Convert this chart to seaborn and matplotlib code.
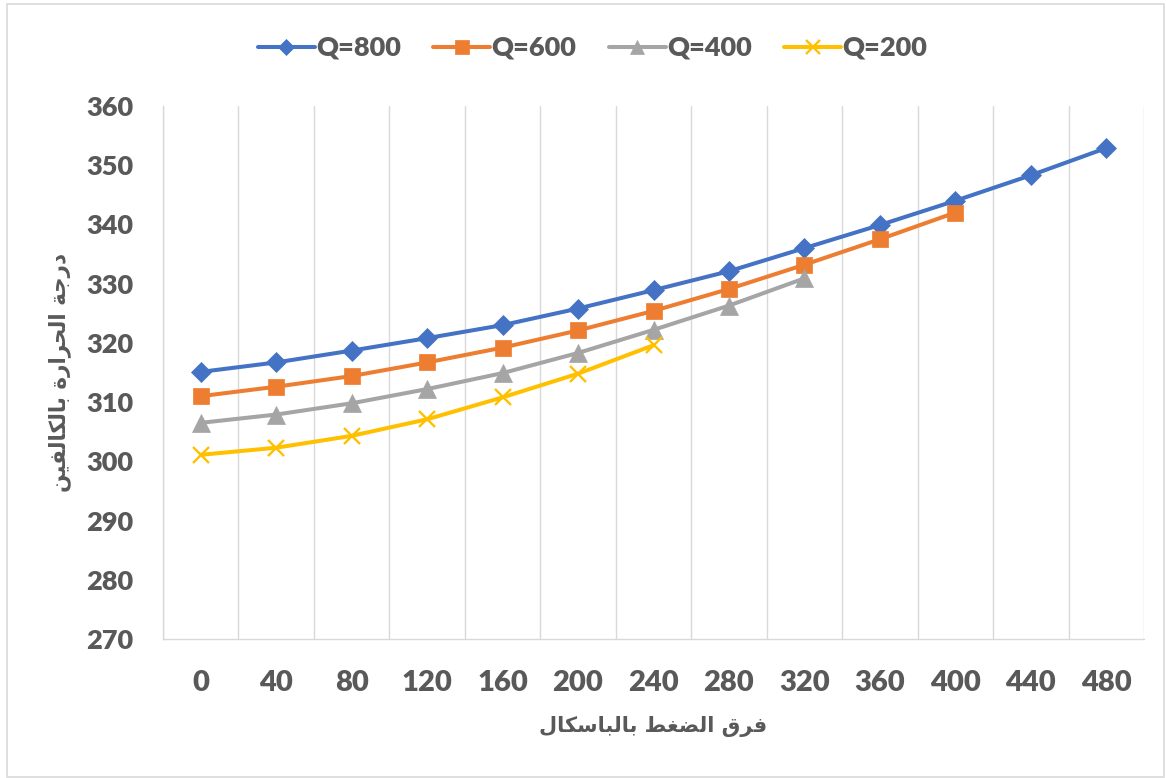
import numpy as np
import pandas as pd
import matplotlib
matplotlib.use("Agg")
import matplotlib.pyplot as plt
import seaborn as sns
from matplotlib.patches import Rectangle

# ---------------- data ----------------
pressure = [0, 40, 80, 120, 160, 200, 240, 280, 320, 360, 400, 440, 480]
q800 = [315.1, 316.7, 318.7, 320.8, 323.0, 325.8, 328.9, 332.1, 336.0, 339.9, 344.0, 348.3, 352.9]
q600 = [311.0, 312.6, 314.4, 316.7, 319.2, 322.1, 325.4, 329.1, 333.2, 337.5, 342.0]
q400 = [306.5, 307.9, 309.8, 312.2, 314.9, 318.3, 322.2, 326.3, 330.9]
q200 = [301.1, 302.3, 304.3, 307.1, 310.8, 314.8, 319.6]
series_names = ["Q=800", "Q=600", "Q=400", "Q=200"]
y_ticks = [270, 280, 290, 300, 310, 320, 330, 340, 350, 360]
x_title = "فرق الضغط بالباسكال"
y_title = "درجة الحرارة بالكالفين"

# --------- minimal Arabic shaping (presentation forms + RTL order) ---------
FORMS = {  # isolated, final, initial, medial
    "ا": ("\uFE8D", "\uFE8E", None, None),
    "ب": ("\uFE8F", "\uFE90", "\uFE91", "\uFE92"),
    "ة": ("\uFE93", "\uFE94", None, None),
    "ت": ("\uFE95", "\uFE96", "\uFE97", "\uFE98"),
    "ج": ("\uFE9D", "\uFE9E", "\uFE9F", "\uFEA0"),
    "ح": ("\uFEA1", "\uFEA2", "\uFEA3", "\uFEA4"),
    "د": ("\uFEA9", "\uFEAA", None, None),
    "ر": ("\uFEAD", "\uFEAE", None, None),
    "س": ("\uFEB1", "\uFEB2", "\uFEB3", "\uFEB4"),
    "ض": ("\uFEBD", "\uFEBE", "\uFEBF", "\uFEC0"),
    "ط": ("\uFEC1", "\uFEC2", "\uFEC3", "\uFEC4"),
    "غ": ("\uFECD", "\uFECE", "\uFECF", "\uFED0"),
    "ف": ("\uFED1", "\uFED2", "\uFED3", "\uFED4"),
    "ق": ("\uFED5", "\uFED6", "\uFED7", "\uFED8"),
    "ك": ("\uFED9", "\uFEDA", "\uFEDB", "\uFEDC"),
    "ل": ("\uFEDD", "\uFEDE", "\uFEDF", "\uFEE0"),
    "ن": ("\uFEE5", "\uFEE6", "\uFEE7", "\uFEE8"),
    "ي": ("\uFEF1", "\uFEF2", "\uFEF3", "\uFEF4"),
}


def dual(c):
    return c in FORMS and FORMS[c][2] is not None


def shape(text):
    out = []
    for i, c in enumerate(text):
        if c not in FORMS:
            out.append(c)
            continue
        prev = text[i - 1] if i > 0 else ""
        nxt = text[i + 1] if i + 1 < len(text) else ""
        jp = dual(prev)
        jn = dual(c) and nxt in FORMS
        f = FORMS[c]
        if jp and jn:
            out.append(f[3])
        elif jp:
            out.append(f[1])
        elif jn:
            out.append(f[2])
        else:
            out.append(f[0])
    return "".join(out)[::-1]


sns.set_theme(style="white")
plt.rcParams["font.family"] = ["Lato", "DejaVu Sans"]

fig = plt.figure(figsize=(11.66, 7.78), dpi=100)
ax = fig.add_axes([163 / 1166, 1 - 639 / 778, (1144 - 163) / 1166, (639 - 106) / 778])

colors = ["#4472C4", "#ED7D31", "#A5A5A5", "#FFC000"]
markers = ["D", "s", "^", "x"]
msizes = [10.5, 12, 12.5, 12]

xpos = np.arange(len(pressure))
for name, col, mk, ms, vals in zip(series_names, colors, markers, msizes, [q800, q600, q400, q200]):
    sub = pd.DataFrame({"pos": xpos[:len(vals)], "T": vals})
    sns.lineplot(data=sub, x="pos", y="T", ax=ax, color=col, lw=2.9,
                 marker=mk, markersize=ms, markeredgecolor=col,
                 markeredgewidth=1.7 if mk == "x" else 0.5, label=name)

ax.set_xlim(-0.5, len(pressure) - 0.5)
ax.set_ylim(270, 360)
ax.set_yticks(y_ticks)
ax.set_xticks(xpos)
ax.set_xticklabels([str(p) for p in pressure])

# vertical gridlines at category boundaries
for b in np.arange(-0.5, len(pressure), 1.0):
    ax.axvline(b, color="#D9D9D9", lw=1.0, zorder=0)

for s in ["top", "right"]:
    ax.spines[s].set_visible(False)
for s in ["left", "bottom"]:
    ax.spines[s].set_color("#D9D9D9")
    ax.spines[s].set_linewidth(1.0)

ax.tick_params(axis="both", length=0, labelcolor="#595959")
ax.tick_params(axis="y", pad=21.5, labelsize=19.5)
ax.tick_params(axis="x", pad=22, labelsize=21)
for lbl in ax.get_xticklabels() + ax.get_yticklabels():
    lbl.set_fontweight("heavy")

ax.set_xlabel(shape(x_title), fontsize=15, fontweight="bold", color="#595959",
              labelpad=15, family=["DejaVu Sans"])
ax.set_ylabel(shape(y_title), fontsize=15.5, fontweight="bold", color="#595959",
              labelpad=11, family=["DejaVu Sans"])

leg = ax.legend(loc="center", bbox_to_anchor=(0.438, 1 + 58 / 533), ncol=4, frameon=False,
                fontsize=19.5, handlelength=2.1, columnspacing=1.2, handletextpad=0.05,
                markerscale=0.8)
for t in leg.get_texts():
    t.set_color("#595959")
    t.set_fontweight("heavy")

fig.add_artist(Rectangle((7 / 1166, 1 / 778), 1157 / 1166, 773 / 778, transform=fig.transFigure,
                         fill=False, edgecolor="#D9D9D9", lw=1.2))

fig.savefig("out.png", dpi=100)
